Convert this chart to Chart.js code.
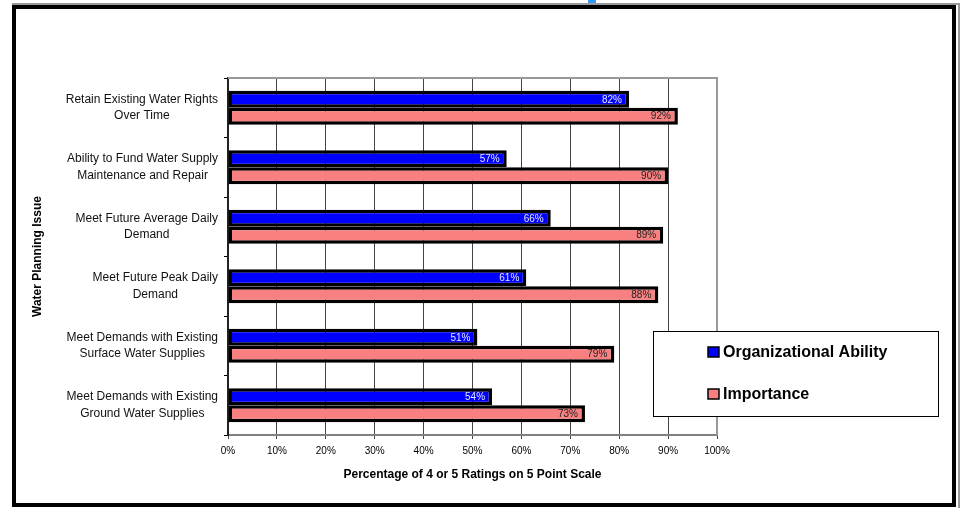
<!DOCTYPE html>
<html lang="en">
<head>
  <meta charset="UTF-8" />
  <title>Water Planning Issues</title>
  <script src="https://cdn.jsdelivr.net/npm/chart.js"></script>
  <style>
    html, body { margin: 0; padding: 0; background: #fff; }
    #wrap { position: relative; width: 961px; height: 508px; }
  </style>
</head>
<body>
  <div id="wrap"><canvas id="chart" width="961" height="508"></canvas></div>

  <script>
    // Data
    const issues = [
      ['Retain Existing Water Rights', 'Over Time'],
      ['Ability to Fund Water Supply', 'Maintenance and Repair'],
      ['Meet Future Average Daily', 'Demand'],
      ['Meet Future Peak Daily', 'Demand'],
      ['Meet Demands with Existing', 'Surface Water Supplies'],
      ['Meet Demands with Existing', 'Ground Water Supplies']
    ];
    const orgAbility = [82, 57, 66, 61, 51, 54];
    const importance = [92, 90, 89, 88, 79, 73];
    const seriesNames = ['Organizational Ability', 'Importance'];
    const xTicks = [0, 10, 20, 30, 40, 50, 60, 70, 80, 90, 100];

    Chart.defaults.font.family = '"Liberation Sans", Arial, sans-serif';
    Chart.defaults.color = '#000';

    // outer frame + background
    const framePlugin = {
      id: 'frame',
      beforeDraw(chart) {
        const ctx = chart.ctx;
        ctx.save();
        ctx.fillStyle = '#fff';
        ctx.fillRect(0, 0, chart.width, chart.height);
        ctx.fillStyle = '#3399ff';
        ctx.fillRect(588, 0, 8, 5);
        ctx.strokeStyle = '#999';
        ctx.lineWidth = 2;
        ctx.beginPath();
        ctx.moveTo(12, 4); ctx.lineTo(959, 4); ctx.lineTo(959, 508);
        ctx.stroke();
        ctx.strokeStyle = '#000';
        ctx.lineWidth = 4;
        ctx.strokeRect(14, 7, 940, 498);
        ctx.restore();
      }
    };

    // category labels: block right aligned, lines centred
    const catLabels = {
      id: 'catLabels',
      afterDraw(chart) {
        const ctx = chart.ctx;
        const y = chart.scales.y;
        ctx.save();
        ctx.font = '12px "Liberation Sans", Arial, sans-serif';
        ctx.fillStyle = '#111';
        ctx.textAlign = 'center';
        ctx.textBaseline = 'middle';
        issues.forEach((lines, i) => {
          const py = y.getPixelForValue(i);
          const w = Math.max(...lines.map(l => ctx.measureText(l).width));
          const cx = 218 - w / 2;
          const lh = 16.7;
          lines.forEach((l, j) => {
            ctx.fillText(l, cx, py + (j - (lines.length - 1) / 2) * lh);
          });
        });
        ctx.restore();
      }
    };

    // value labels inside bar ends
    const valueLabels = {
      id: 'valueLabels',
      afterDatasetsDraw(chart) {
        const ctx = chart.ctx;
        ctx.save();
        ctx.font = '10px "Liberation Sans", Arial, sans-serif';
        ctx.textAlign = 'right';
        ctx.textBaseline = 'middle';
        chart.data.datasets.forEach((ds, di) => {
          ctx.fillStyle = di === 0 ? '#e6e6ff' : '#222';
          chart.getDatasetMeta(di).data.forEach((el, i) => {
            ctx.fillText(Math.round(ds.data[i]) + '%', el.x - 7, el.y + 0.5);
          });
        });
        ctx.restore();
      }
    };

    // plot border (top/right) and boxed legend
    const extras = {
      id: 'extras',
      afterDraw(chart) {
        const ctx = chart.ctx;
        const a = chart.chartArea;
        ctx.save();
        ctx.strokeStyle = '#999';
        ctx.lineWidth = 2;
        ctx.beginPath();
        ctx.moveTo(a.left, a.top);
        ctx.lineTo(a.right, a.top);
        ctx.lineTo(a.right, a.bottom);
        ctx.stroke();

        ctx.fillStyle = '#fff';
        ctx.fillRect(653, 331, 286, 85);
        ctx.strokeStyle = '#000';
        ctx.lineWidth = 1;
        ctx.strokeRect(653.5, 331.5, 285, 85);
        ctx.font = 'bold 16px "Liberation Sans", Arial, sans-serif';
        ctx.textBaseline = 'middle';
        ctx.textAlign = 'left';
        chart.data.datasets.forEach((ds, i) => {
          const cy = 352 + i * 42;
          ctx.fillStyle = ds.backgroundColor;
          ctx.fillRect(708, cy - 5, 11, 10);
          ctx.strokeStyle = '#000';
          ctx.lineWidth = 1.5;
          ctx.strokeRect(708, cy - 5, 11, 10);
          ctx.fillStyle = '#000';
          ctx.fillText(ds.label, 723, cy + 1);
        });
        ctx.restore();
      }
    };

    new Chart(document.getElementById('chart'), {
      type: 'bar',
      data: {
        labels: issues,
        datasets: [
          { label: seriesNames[0], data: orgAbility, backgroundColor: '#0000ff', borderColor: '#000', borderWidth: 3.5, borderSkipped: false },
          { label: seriesNames[1], data: importance, backgroundColor: '#f98080', borderColor: '#000', borderWidth: 3.5, borderSkipped: false }
        ]
      },
      options: {
        indexAxis: 'y',
        responsive: false,
        animation: false,
        events: [],
        layout: { padding: { left: 0, top: 78, right: 244, bottom: 23 } },
        datasets: { bar: { categoryPercentage: 0.57, barPercentage: 1.0 } },
        plugins: { legend: { display: false }, tooltip: { enabled: false } },
        scales: {
          x: {
            min: 0, max: 100,
            afterBuildTicks(scale) { scale.ticks = xTicks.map(v => ({ value: v })); },
            afterFit(scale) { scale.height = 50; },
            ticks: { callback: v => v + '%', font: { size: 10 }, padding: 6, maxRotation: 0 },
            grid: { color: '#444', lineWidth: 1, tickLength: 4, tickColor: '#444' },
            border: { color: '#808080', width: 2 },
            title: {
              display: true,
              text: 'Percentage of 4 or 5 Ratings on 5 Point Scale',
              font: { size: 12, weight: 'bold' },
              padding: { top: 0, bottom: 3 }
            }
          },
          y: {
            afterFit(scale) { scale.width = 228; },
            ticks: { display: false },
            grid: { drawOnChartArea: false, tickLength: 4, color: '#000', offset: true },
            border: { color: '#222', width: 2 },
            title: {
              display: true,
              text: 'Water Planning Issue',
              font: { size: 12, weight: 'bold' },
              padding: { top: 30, bottom: 0 }
            }
          }
        }
      },
      plugins: [framePlugin, catLabels, valueLabels, extras]
    });
  </script>
</body>
</html>
